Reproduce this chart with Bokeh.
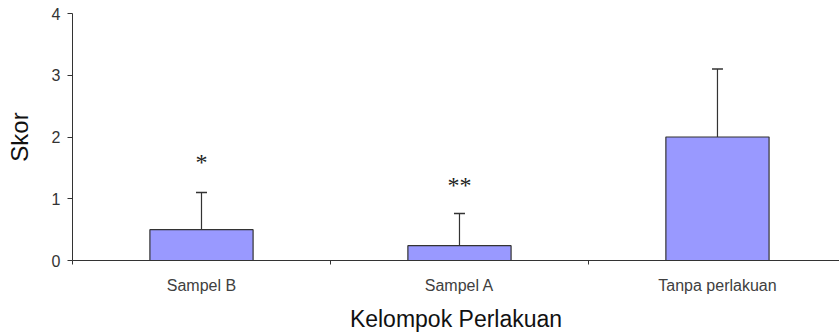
from bokeh.plotting import figure
from bokeh.models import Range1d, FixedTicker, ColumnDataSource, Whisker, TeeHead
from bokeh.embed import file_html
from bokeh.resources import INLINE

categories = ["Sampel B", "Sampel A", "Tanpa perlakuan"]
scores = [0.5, 0.24, 2.0]
errors = [0.6, 0.52, 1.1]
marks = ["*", "**", ""]
mark_y = [1.60, 1.22, 0]
y_ticks = [0, 1, 2, 3, 4]

xs = [i + 0.5 for i in range(len(categories))]
src = ColumnDataSource(dict(
    x=xs, top=scores,
    upper=[s + e for s, e in zip(scores, errors)],
    mark=marks, my=mark_y,
))

p = figure(width=839, height=334, output_backend="svg", toolbar_location=None,
           x_range=Range1d(0, 2.973), y_range=Range1d(0, 4),
           min_border_left=72, min_border_top=13, min_border_right=0, min_border_bottom=2)
p.background_fill_color = "white"
p.border_fill_color = "white"
p.outline_line_color = None
p.xgrid.visible = False
p.ygrid.visible = False

p.vbar(x="x", top="top", width=0.4, bottom=0, source=src,
       fill_color="#9999ff", line_color="#333333", line_width=1.2)

w = Whisker(base="x", lower="top", upper="upper", source=src,
            line_color="#333333", line_width=1.2,
            upper_head=TeeHead(size=11, line_color="#333333", line_width=1.5),
            lower_head=None)
p.add_layout(w)

p.text(x="x", y="my", text="mark", source=src, text_align="center",
       text_baseline="middle", text_font_size="24px", text_color="#222222",
       text_font="Liberation Sans")

# x axis
p.xaxis.ticker = FixedTicker(ticks=xs, minor_ticks=[0, 1, 2, 3])
p.xaxis.major_label_overrides = {x: c for x, c in zip(xs, categories)}
p.xaxis.major_tick_out = 0
p.xaxis.major_tick_in = 0
p.xaxis.minor_tick_out = 4
p.xaxis.minor_tick_in = 0
p.xaxis.major_label_standoff = 12
p.xaxis.major_label_text_font = "Liberation Sans"
p.xaxis.major_label_text_font_size = "16px"
p.xaxis.major_label_text_color = "#404040"
p.xaxis.axis_label = "Kelompok Perlakuan"
p.xaxis.axis_label_text_font = "Liberation Sans"
p.xaxis.axis_label_text_font_size = "23px"
p.xaxis.axis_label_text_font_style = "normal"
p.xaxis.axis_label_text_color = "#111111"
p.xaxis.axis_label_standoff = 9
p.xaxis.axis_line_color = "#333333"
p.xaxis.minor_tick_line_color = "#333333"

# y axis
p.yaxis.ticker = FixedTicker(ticks=y_ticks, minor_ticks=[])
p.yaxis.major_tick_out = 5
p.yaxis.major_tick_in = 0
p.yaxis.major_label_standoff = 7
p.yaxis.major_label_text_font = "Liberation Sans"
p.yaxis.major_label_text_font_size = "16px"
p.yaxis.major_label_text_color = "#333333"
p.yaxis.axis_label = "Skor"
p.yaxis.axis_label_text_font = "Liberation Sans"
p.yaxis.axis_label_text_font_size = "24px"
p.yaxis.axis_label_text_font_style = "normal"
p.yaxis.axis_label_text_color = "#111111"
p.yaxis.axis_label_standoff = 16
p.yaxis.axis_line_color = "#333333"
p.yaxis.major_tick_line_color = "#333333"

open("out.html", "w").write(file_html(p, INLINE))
